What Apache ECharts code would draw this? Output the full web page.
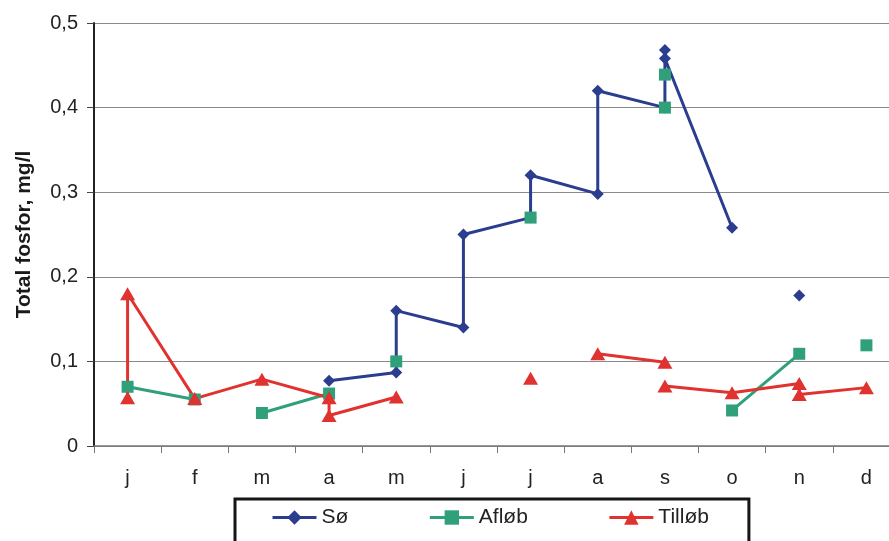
<!DOCTYPE html>
<html><head><meta charset="utf-8">
<script src="https://cdn.jsdelivr.net/npm/echarts@6/dist/echarts.min.js"></script>
<style>html,body{margin:0;padding:0;background:#fff}#c{width:889px;height:541px}</style>
</head><body><div id="c"></div>
<script>
const months = ['j','f','m','a','m','j','j','a','s','o','n','d'];
const yTicks = [0, 0.1, 0.2, 0.3, 0.4, 0.5];
// [month index, value]; '-' breaks the line
const soe = [[3,0.077],[4,0.087],[4,0.16],[5,0.14],[5,0.25],[6,0.27],[6,0.32],[7,0.298],[7,0.42],[8,0.40],[8,0.468],[8,0.458],[9,0.258],[10,'-'],[10,0.178]];
const afloeb = [[0,0.07],[1,0.055],[2,'-'],[2,0.039],[3,0.062],[4,'-'],[4,0.10],[5,'-'],[6,0.27],[7,'-'],[8,0.40],[8,'-'],[8,0.439],[9,'-'],[9,0.042],[10,0.109],[11,'-'],[11,0.119]];
const tilloeb = [[0,0.057],[0,0.18],[1,0.056],[2,0.079],[3,0.057],[3,0.036],[4,0.058],[5,'-'],[6,0.08],[7,'-'],[7,0.109],[8,0.099],[8,'-'],[8,0.071],[9,0.063],[10,0.074],[10,0.061],[11,0.069]];

const FONT = '"Liberation Sans", Arial, sans-serif';
const chart = echarts.init(document.getElementById('c'), null, {renderer:'canvas'});
function mk(name, data, color, symbol, size){
  return {name, type:'line', data, color, symbol, symbolSize:size, showSymbol:true,
    connectNulls:false, lineStyle:{width:3, color}, itemStyle:{color},
    emphasis:{disabled:true}, animation:false, z:2};
}
chart.setOption({
  animation:false,
  textStyle:{fontFamily:FONT},
  grid:{left:94, top:23, width:806, height:423, outerBoundsMode:'none', containLabel:false},
  xAxis:{type:'category', data:months, boundaryGap:true,
    axisLine:{lineStyle:{color:'#777', width:1.5}},
    axisTick:{show:true, interval:0, length:7, lineStyle:{color:'#777'}},
    axisLabel:{fontSize:20, color:'#222', margin:22, fontFamily:FONT, interval:0},
    splitLine:{show:false}},
  yAxis:{type:'value', min:0, max:0.5, interval:0.1,
    name:'Total fosfor, mg/l', nameLocation:'middle', nameGap:59,
    nameTextStyle:{fontSize:21, fontWeight:'bold', color:'#1a1a1a', fontFamily:FONT},
    axisLine:{show:true, lineStyle:{color:'#222', width:2}},
    axisTick:{show:true, length:7, lineStyle:{color:'#444'}},
    axisLabel:{fontSize:20, color:'#222', margin:16, fontFamily:FONT,
      formatter:v=>yTicks.includes(+v.toFixed(1)) ? (v===0?'0':v.toFixed(1).replace('.',',')) : ''},
    splitLine:{show:true, lineStyle:{color:'#8a8a8a', width:1}}},
  legend:{left:235, top:499, itemGap:80, itemWidth:44, itemHeight:18,
    padding:[8,40,40,36], borderColor:'#151515', borderWidth:3,
    lineStyle:{width:3},
    textStyle:{fontSize:21, color:'#222', fontFamily:FONT},
    data:['Sø','Afløb','Tilløb']},
  series:[
    mk('Sø', soe, '#2b3d8f', 'diamond', 12),
    mk('Afløb', afloeb, '#30a07a', 'rect', 12),
    mk('Tilløb', tilloeb, '#e0322f', 'triangle', [15,13])
  ]
});
</script></body></html>
